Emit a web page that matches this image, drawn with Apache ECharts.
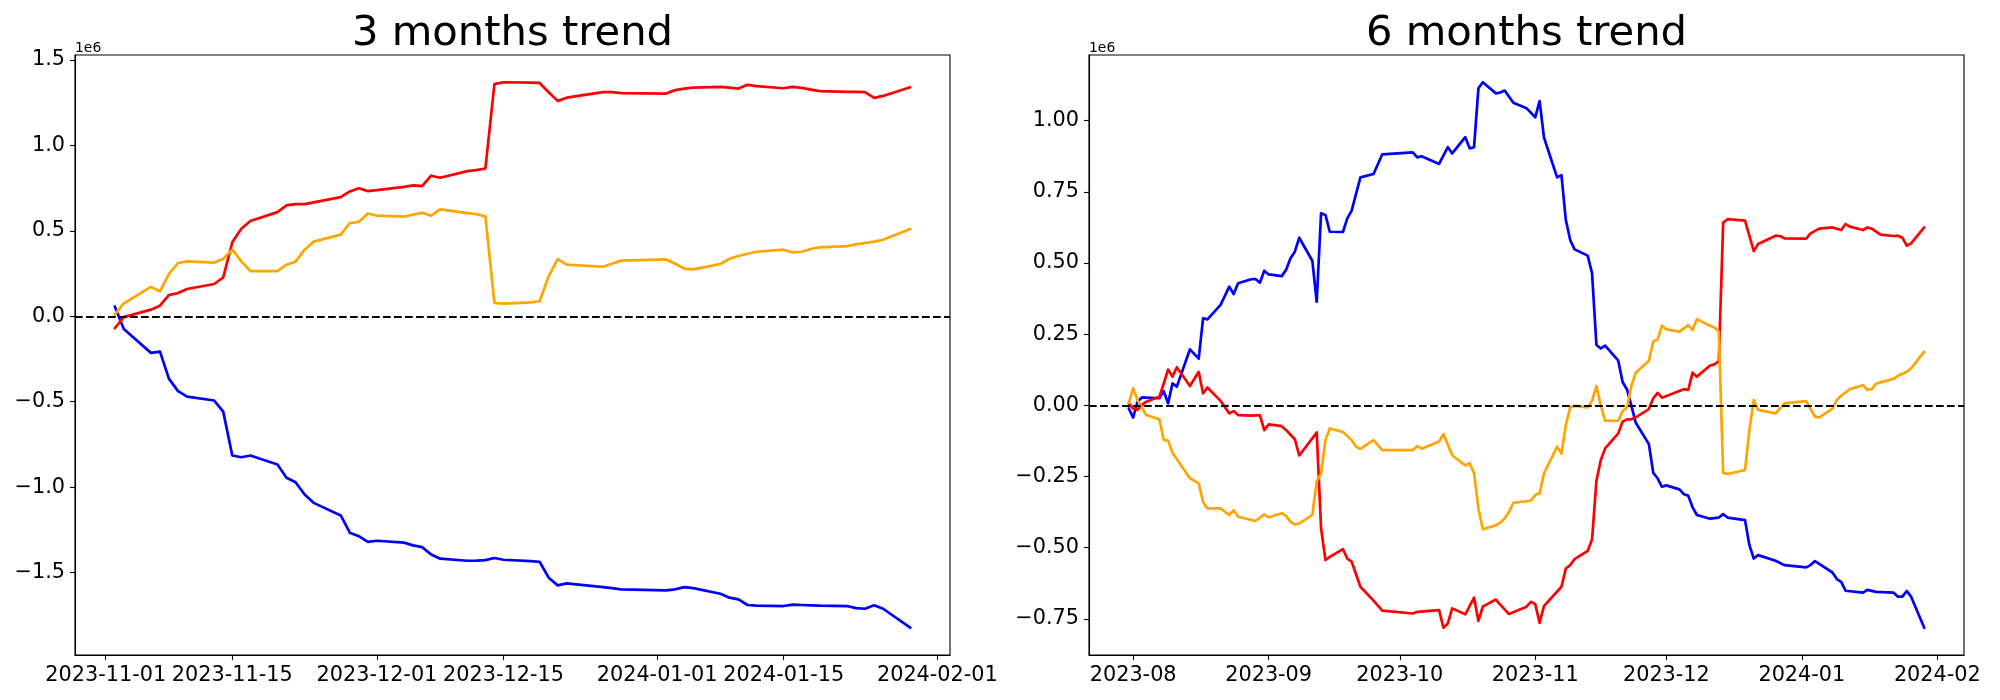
<!DOCTYPE html>
<html><head><meta charset="utf-8">
<script src="https://cdn.jsdelivr.net/npm/echarts@6/dist/echarts.min.js"></script>
<style>html,body{margin:0;padding:0;background:#fff}#c{width:2000px;height:700px}</style>
</head><body><div id="c"></div>
<script>
// ---------- DATA (values in units of 1e6) ----------
const leftTitle = '3 months trend';
const rightTitle = '6 months trend';

const leftDates = ['2023-11-02','2023-11-03','2023-11-06','2023-11-07','2023-11-08','2023-11-09','2023-11-10','2023-11-13','2023-11-14','2023-11-15',
'2023-11-16','2023-11-17','2023-11-20','2023-11-21','2023-11-22','2023-11-23','2023-11-24','2023-11-27','2023-11-28','2023-11-29',
'2023-11-30','2023-12-01','2023-12-04','2023-12-05','2023-12-06','2023-12-07','2023-12-08','2023-12-11','2023-12-12','2023-12-13',
'2023-12-14','2023-12-15','2023-12-18','2023-12-19','2023-12-20','2023-12-21','2023-12-22','2023-12-26','2023-12-27','2023-12-28',
'2024-01-02','2024-01-03','2024-01-04','2024-01-05','2024-01-08','2024-01-09','2024-01-10','2024-01-11','2024-01-12','2024-01-15',
'2024-01-16','2024-01-17','2024-01-18','2024-01-19','2024-01-22','2024-01-23','2024-01-24','2024-01-25','2024-01-26','2024-01-29'];
const leftRed = [-0.070,-0.005,0.039,0.062,0.125,0.136,0.160,0.189,0.228,0.433,
0.513,0.558,0.610,0.649,0.657,0.657,0.667,0.698,0.731,0.750,
0.733,0.739,0.758,0.766,0.762,0.823,0.811,0.850,0.856,0.865,
1.359,1.370,1.368,1.366,1.312,1.261,1.280,1.312,1.312,1.306,
1.304,1.324,1.333,1.339,1.343,1.339,1.333,1.355,1.347,1.335,
1.343,1.337,1.327,1.318,1.314,1.314,1.312,1.279,1.290,1.341];
const leftOrange = [0.010,0.076,0.172,0.146,0.248,0.312,0.322,0.314,0.337,0.390,
0.322,0.265,0.265,0.302,0.320,0.390,0.437,0.478,0.546,0.552,
0.602,0.589,0.583,0.595,0.606,0.589,0.626,0.604,0.598,0.585,
0.078,0.074,0.082,0.088,0.234,0.335,0.302,0.290,0.308,0.326,
0.333,0.308,0.279,0.275,0.306,0.337,0.353,0.366,0.378,0.390,
0.374,0.378,0.394,0.404,0.411,0.421,0.429,0.437,0.448,0.511];
const leftBlue = [0.058,-0.074,-0.214,-0.207,-0.366,-0.438,-0.470,-0.493,-0.558,-0.815,
-0.825,-0.815,-0.867,-0.945,-0.971,-1.043,-1.092,-1.166,-1.267,-1.287,
-1.320,-1.314,-1.325,-1.341,-1.351,-1.394,-1.419,-1.431,-1.430,-1.427,
-1.415,-1.425,-1.433,-1.437,-1.530,-1.575,-1.563,-1.585,-1.591,-1.598,
-1.604,-1.598,-1.585,-1.591,-1.624,-1.647,-1.657,-1.690,-1.694,-1.696,
-1.688,-1.690,-1.692,-1.694,-1.696,-1.708,-1.712,-1.692,-1.712,-1.823];

const rightRed = [['2023-07-31',0.007],['2023-08-01',-0.011],['2023-08-02',-0.016],['2023-08-03',0.001],['2023-08-04',0.013],
['2023-08-07',0.030],['2023-08-08',0.077],['2023-08-09',0.126],['2023-08-10',0.101],['2023-08-11',0.134],
['2023-08-14',0.068],['2023-08-16',0.118],['2023-08-17',0.042],['2023-08-18',0.063],['2023-08-21',0.016],
['2023-08-23',-0.028],['2023-08-24',-0.020],['2023-08-25',-0.034],['2023-08-28',-0.036],['2023-08-29',-0.035],
['2023-08-30',-0.034],['2023-08-31',-0.087],['2023-09-01',-0.067],['2023-09-04',-0.073],['2023-09-05',-0.087],
['2023-09-07',-0.119],['2023-09-08',-0.176],['2023-09-11',-0.116],['2023-09-12',-0.095],['2023-09-13',-0.432],
['2023-09-14',-0.543],['2023-09-15',-0.532],['2023-09-18',-0.505],['2023-09-19',-0.538],['2023-09-20',-0.549],
['2023-09-22',-0.637],['2023-09-25',-0.686],['2023-09-27',-0.721],['2023-10-04',-0.731],['2023-10-05',-0.725],
['2023-10-10',-0.719],['2023-10-11',-0.781],['2023-10-12',-0.766],['2023-10-13',-0.713],['2023-10-16',-0.734],
['2023-10-18',-0.675],['2023-10-19',-0.757],['2023-10-20',-0.707],['2023-10-23',-0.682],['2023-10-24',-0.700],
['2023-10-26',-0.733],['2023-10-30',-0.707],['2023-10-31',-0.690],['2023-11-01',-0.698],['2023-11-02',-0.764],
['2023-11-03',-0.705],['2023-11-07',-0.637],['2023-11-08',-0.573],['2023-11-09',-0.561],['2023-11-10',-0.540],
['2023-11-13',-0.511],['2023-11-14',-0.471],['2023-11-15',-0.265],['2023-11-16',-0.192],['2023-11-17',-0.151],
['2023-11-20',-0.098],['2023-11-21',-0.057],['2023-11-22',-0.049],['2023-11-23',-0.049],['2023-11-24',-0.042],
['2023-11-27',-0.013],['2023-11-28',0.025],['2023-11-29',0.044],['2023-11-30',0.027],['2023-12-05',0.057],
['2023-12-06',0.054],['2023-12-07',0.115],['2023-12-08',0.101],['2023-12-11',0.140],['2023-12-12',0.144],
['2023-12-13',0.155],['2023-12-14',0.642],['2023-12-15',0.654],['2023-12-19',0.649],['2023-12-21',0.542],
['2023-12-22',0.567],['2023-12-26',0.596],['2023-12-27',0.595],['2023-12-28',0.587],['2024-01-02',0.586],
['2024-01-03',0.604],['2024-01-05',0.621],['2024-01-08',0.625],['2024-01-10',0.616],['2024-01-11',0.637],
['2024-01-12',0.628],['2024-01-15',0.616],['2024-01-16',0.625],['2024-01-17',0.621],['2024-01-19',0.600],
['2024-01-22',0.595],['2024-01-23',0.596],['2024-01-24',0.589],['2024-01-25',0.561],['2024-01-26',0.569],
['2024-01-29',0.625]];

const rightOrange = [['2023-07-31',0.009],['2023-08-01',0.060],['2023-08-02',0.019],['2023-08-04',-0.034],['2023-08-07',-0.049],
['2023-08-08',-0.121],['2023-08-09',-0.124],['2023-08-10',-0.166],['2023-08-14',-0.256],['2023-08-16',-0.274],
['2023-08-17',-0.339],['2023-08-18',-0.362],['2023-08-21',-0.362],['2023-08-23',-0.385],['2023-08-24',-0.368],
['2023-08-25',-0.391],['2023-08-29',-0.406],['2023-08-31',-0.383],['2023-09-01',-0.393],['2023-09-04',-0.379],
['2023-09-05',-0.388],['2023-09-06',-0.409],['2023-09-07',-0.418],['2023-09-08',-0.415],['2023-09-11',-0.385],
['2023-09-12',-0.268],['2023-09-13',-0.239],['2023-09-14',-0.122],['2023-09-15',-0.081],['2023-09-18',-0.093],
['2023-09-20',-0.122],['2023-09-21',-0.145],['2023-09-22',-0.153],['2023-09-25',-0.122],['2023-09-27',-0.157],
['2023-10-04',-0.157],['2023-10-05',-0.143],['2023-10-06',-0.152],['2023-10-10',-0.127],['2023-10-11',-0.101],
['2023-10-13',-0.175],['2023-10-16',-0.211],['2023-10-17',-0.203],['2023-10-18',-0.238],['2023-10-19',-0.362],
['2023-10-20',-0.435],['2023-10-23',-0.421],['2023-10-24',-0.412],['2023-10-25',-0.397],['2023-10-26',-0.374],
['2023-10-27',-0.342],['2023-10-31',-0.335],['2023-11-01',-0.315],['2023-11-02',-0.309],['2023-11-03',-0.239],
['2023-11-06',-0.145],['2023-11-07',-0.169],['2023-11-08',-0.069],['2023-11-09',-0.007],['2023-11-10',-0.002],
['2023-11-13',-0.007],['2023-11-14',0.016],['2023-11-15',0.068],['2023-11-16',0.000],['2023-11-17',-0.054],
['2023-11-20',-0.054],['2023-11-21',-0.020],['2023-11-22',-0.007],['2023-11-23',0.068],['2023-11-24',0.115],
['2023-11-27',0.157],['2023-11-28',0.224],['2023-11-29',0.232],['2023-11-30',0.280],['2023-12-01',0.267],
['2023-12-04',0.259],['2023-12-06',0.282],['2023-12-07',0.265],['2023-12-08',0.303],['2023-12-11',0.280],
['2023-12-12',0.274],['2023-12-13',0.259],['2023-12-14',-0.237],['2023-12-15',-0.241],['2023-12-19',-0.227],
['2023-12-20',-0.087],['2023-12-21',0.019],['2023-12-22',-0.016],['2023-12-26',-0.028],['2023-12-28',0.007],
['2024-01-02',0.015],['2024-01-04',-0.040],['2024-01-05',-0.042],['2024-01-08',-0.011],['2024-01-09',0.019],
['2024-01-10',0.034],['2024-01-12',0.057],['2024-01-15',0.071],['2024-01-16',0.054],['2024-01-17',0.057],
['2024-01-18',0.077],['2024-01-22',0.093],['2024-01-23',0.104],['2024-01-25',0.118],['2024-01-26',0.130],
['2024-01-29',0.189]];

const rightBlue = [['2023-07-31',-0.011],['2023-08-01',-0.043],['2023-08-02',0.013],['2023-08-03',0.028],['2023-08-07',0.025],
['2023-08-08',0.050],['2023-08-09',0.007],['2023-08-10',0.077],['2023-08-11',0.066],['2023-08-14',0.197],
['2023-08-16',0.164],['2023-08-17',0.306],['2023-08-18',0.302],['2023-08-21',0.353],['2023-08-23',0.417],
['2023-08-24',0.391],['2023-08-25',0.429],['2023-08-28',0.443],['2023-08-29',0.444],['2023-08-30',0.431],
['2023-08-31',0.473],['2023-09-01',0.460],['2023-09-04',0.454],['2023-09-05',0.476],['2023-09-06',0.517],
['2023-09-07',0.540],['2023-09-08',0.589],['2023-09-11',0.508],['2023-09-12',0.364],['2023-09-13',0.675],
['2023-09-14',0.669],['2023-09-15',0.610],['2023-09-18',0.609],['2023-09-19',0.657],['2023-09-20',0.684],
['2023-09-21',0.743],['2023-09-22',0.801],['2023-09-25',0.813],['2023-09-27',0.882],['2023-10-04',0.889],
['2023-10-05',0.871],['2023-10-06',0.875],['2023-10-10',0.848],['2023-10-12',0.907],['2023-10-13',0.885],
['2023-10-16',0.942],['2023-10-17',0.903],['2023-10-18',0.907],['2023-10-19',1.114],['2023-10-20',1.135],
['2023-10-23',1.096],['2023-10-24',1.099],['2023-10-25',1.106],['2023-10-27',1.063],['2023-10-30',1.044],
['2023-11-01',1.012],['2023-11-02',1.069],['2023-11-03',0.941],['2023-11-06',0.801],['2023-11-07',0.809],
['2023-11-08',0.651],['2023-11-09',0.581],['2023-11-10',0.548],['2023-11-13',0.526],['2023-11-14',0.464],
['2023-11-15',0.212],['2023-11-16',0.200],['2023-11-17',0.210],['2023-11-20',0.157],['2023-11-21',0.081],
['2023-11-22',0.056],['2023-11-23',-0.002],['2023-11-24',-0.061],['2023-11-27',-0.136],['2023-11-28',-0.237],
['2023-11-29',-0.256],['2023-11-30',-0.286],['2023-12-01',-0.281],['2023-12-04',-0.295],['2023-12-05',-0.312],
['2023-12-06',-0.317],['2023-12-07',-0.358],['2023-12-08',-0.385],['2023-12-11',-0.398],['2023-12-13',-0.394],
['2023-12-14',-0.382],['2023-12-15',-0.394],['2023-12-19',-0.403],['2023-12-20',-0.491],['2023-12-21',-0.538],
['2023-12-22',-0.526],['2023-12-26',-0.546],['2023-12-28',-0.561],['2024-01-02',-0.569],['2024-01-03',-0.561],
['2024-01-04',-0.547],['2024-01-08',-0.587],['2024-01-09',-0.610],['2024-01-10',-0.620],['2024-01-11',-0.651],
['2024-01-15',-0.658],['2024-01-16',-0.648],['2024-01-18',-0.655],['2024-01-22',-0.658],['2024-01-23',-0.672],
['2024-01-24',-0.672],['2024-01-25',-0.652],['2024-01-26',-0.672],['2024-01-29',-0.781]];

const leftXTicks = ['2023-11-01','2023-11-15','2023-12-01','2023-12-15','2024-01-01','2024-01-15','2024-02-01'];
const rightXTicks = ['2023-08-01','2023-09-01','2023-10-01','2023-11-01','2023-12-01','2024-01-01','2024-02-01'];
const leftYTicks = [-1.5,-1.0,-0.5,0.0,0.5,1.0,1.5];
const rightYTicks = [-0.75,-0.5,-0.25,0,0.25,0.5,0.75,1.0];
const offsetText = '1e6';

// ---------- helpers ----------
const ts = s => Date.parse(s + 'T00:00:00Z');
const pad2 = n => (n < 10 ? '0' : '') + n;
const fmtDay = v => { const d = new Date(v); return d.getUTCFullYear() + '-' + pad2(d.getUTCMonth()+1) + '-' + pad2(d.getUTCDate()); };
const fmtMonth = v => { const d = new Date(v); return d.getUTCFullYear() + '-' + pad2(d.getUTCMonth()+1); };
const fmtNum = dec => v => (v < 0 ? '\u2212' : '') + Math.abs(v).toFixed(dec);
function margins(vals) {
  const mn = Math.min(...vals), mx = Math.max(...vals), p = (mx - mn) * 0.05;
  return [mn - p, mx + p];
}

const leftSeries = { red: leftDates.map((d,i)=>[ts(d), leftRed[i]]),
                     orange: leftDates.map((d,i)=>[ts(d), leftOrange[i]]),
                     blue: leftDates.map((d,i)=>[ts(d), leftBlue[i]]) };
const rightSeries = { red: rightRed.map(p=>[ts(p[0]),p[1]]),
                      orange: rightOrange.map(p=>[ts(p[0]),p[1]]),
                      blue: rightBlue.map(p=>[ts(p[0]),p[1]]) };

const lx = margins(leftDates.map(ts));
const ly = margins(leftRed.concat(leftOrange, leftBlue));
const rx = margins(rightRed.concat(rightOrange, rightBlue).map(p=>ts(p[0])));
const ry = margins(rightRed.concat(rightOrange, rightBlue).map(p=>p[1]));

const FONT = 'DejaVu Sans';
const labelStyle = { fontFamily: FONT, fontSize: 20.8, color: '#000' };
const COLORS = { red: '#ff0000', orange: '#ffa500', blue: '#0000ff' };

function xAxisCfg(grid, range, ticks, fmt) {
  const vals = ticks.map(ts);
  return { type: 'value', gridIndex: grid, min: range[0], max: range[1], scale: true,
    splitLine: { show: false },
    axisLine: { show: true, onZero: false, lineStyle: { color: '#000', width: 1.1 } },
    axisTick: { show: true, customValues: vals, length: 5, inside: false, lineStyle: { color: '#000', width: 1.1 } },
    axisLabel: Object.assign({ customValues: vals, formatter: fmt, margin: 10, hideOverlap: false }, labelStyle) };
}
function yAxisCfg(grid, range, ticks, dec) {
  return { type: 'value', gridIndex: grid, min: range[0], max: range[1], scale: true,
    splitLine: { show: false },
    axisLine: { show: true, onZero: false, lineStyle: { color: '#000', width: 1.1 } },
    axisTick: { show: true, customValues: ticks, length: 5, inside: false, lineStyle: { color: '#000', width: 1.1 } },
    axisLabel: Object.assign({ customValues: ticks, formatter: fmtNum(dec), margin: 10, hideOverlap: false }, labelStyle) };
}
function lineSeries(grid, name, data, withZero) {
  const s = { type: 'line', name: name, xAxisIndex: grid, yAxisIndex: grid, data: data,
    showSymbol: false, symbol: 'none', silent: true, animation: false,
    lineStyle: { color: COLORS[name], width: 2.7, join: 'round', cap: 'round' },
    itemStyle: { color: COLORS[name] } };
  if (withZero) {
    s.markLine = { silent: true, symbol: ['none','none'], animation: false, label: { show: false },
      lineStyle: { color: '#000', type: [7.7, 3.3], width: 2.1 },
      emphasis: { disabled: true }, data: [{ yAxis: 0 }] };
  }
  return s;
}

const titleStyle = { fontFamily: FONT, fontSize: 41.7, fontWeight: 'normal', color: '#000' };
const smallStyle = { fontFamily: FONT, fontSize: 13.9, fontWeight: 'normal', color: '#000' };

const chart = echarts.init(document.getElementById('c'), null, { renderer: 'canvas', width: 2000, height: 700 });
chart.setOption({
  backgroundColor: '#fff',
  animation: false,
  title: [
    { text: leftTitle, left: 512.5, top: 13, textAlign: 'center', padding: 0, textStyle: titleStyle },
    { text: rightTitle, left: 1526.5, top: 13, textAlign: 'center', padding: 0, textStyle: titleStyle },
    { text: offsetText, left: 75, top: 41, padding: 0, textStyle: smallStyle },
    { text: offsetText, left: 1089, top: 41, padding: 0, textStyle: smallStyle }
  ],
  grid: [
    { left: 75, top: 55, width: 875, height: 600, show: true, borderColor: '#000', borderWidth: 1.1, backgroundColor: 'transparent' },
    { left: 1089, top: 55, width: 875, height: 600, show: true, borderColor: '#000', borderWidth: 1.1, backgroundColor: 'transparent' }
  ],
  xAxis: [ xAxisCfg(0, lx, leftXTicks, fmtDay), xAxisCfg(1, rx, rightXTicks, fmtMonth) ],
  yAxis: [ yAxisCfg(0, ly, leftYTicks, 1), yAxisCfg(1, ry, rightYTicks, 2) ],
  series: [
    lineSeries(0, 'blue', leftSeries.blue, false),
    lineSeries(0, 'red', leftSeries.red, false),
    lineSeries(0, 'orange', leftSeries.orange, true),
    lineSeries(1, 'blue', rightSeries.blue, false),
    lineSeries(1, 'red', rightSeries.red, false),
    lineSeries(1, 'orange', rightSeries.orange, true)
  ]
});
</script></body></html>
